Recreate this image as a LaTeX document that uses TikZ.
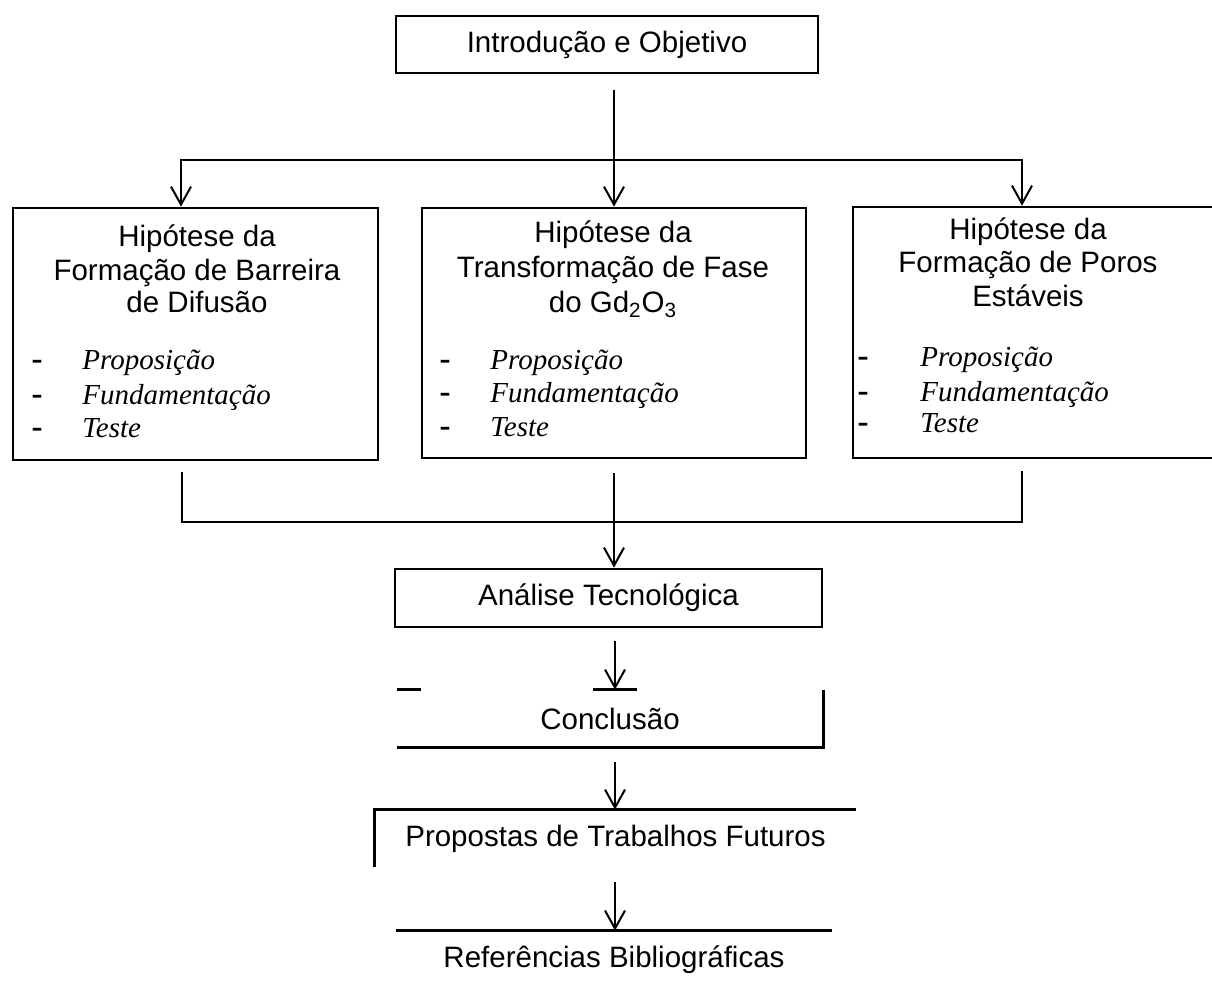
\documentclass[tikz,border=0pt]{standalone}
\usepackage{fontspec}
\setmainfont{Liberation Serif}
\setsansfont{Liberation Sans}
\usetikzlibrary{arrows.meta}
\begin{document}
\begin{tikzpicture}[x=0.5pt,y=-0.5pt,
  box/.style={draw, line width=1.3pt, inner sep=0pt, sf},
  openbox/.style={inner sep=0pt, sf},
  edge/.style={line width=1.3pt},
  conn/.style={line width=1pt},
  arr/.style={conn, -{Straight Barb[length=9pt,width=10pt,line width=1pt]}},
  sf/.style={font=\sffamily\fontsize{14.75}{17}\selectfont},
  ttl/.style={anchor=base, inner sep=0pt, sf},
  itm/.style={anchor=base west, inner sep=0pt, font=\itshape\fontsize{14.5}{17}\selectfont},
  dsh/.style={anchor=base, inner sep=0pt, font=\bfseries\fontsize{16.5}{17}\selectfont},
  ]
\useasboundingbox (0,0) rectangle (1212,983);
\clip (0,0) rectangle (1212,983);

% top box
\node[box, minimum width=211pt, minimum height=28.5pt] (intro) at (607,44.5) {Introdução e Objetivo};

% hypothesis boxes
\node[box, minimum width=182.5pt, minimum height=126pt] (hl) at (195.5,334) {};
\node[box, minimum width=192pt, minimum height=125pt] (hm) at (614,333) {};
\node[box, minimum width=181pt, minimum height=125.5pt] (hr) at (1034,332.5) {};

% left box text
\node[ttl] (hl1) at (197,247) {Hipótese da};
\node[ttl] (hl2) at (197,281) {Formação de Barreira};
\node[ttl] (hl3) at (197,313) {de Difusão};
\node[dsh] (hld1) at (37,370) {-};
\node[dsh] (hld2) at (37,405) {-};
\node[dsh] (hld3) at (37,438) {-};
\node[itm] (hli1) at (82,370) {Proposição};
\node[itm] (hli2) at (82,405) {Fundamentação};
\node[itm] (hli3) at (82,438) {Teste};

% middle box text
\node[ttl] (hm1) at (613,243) {Hipótese da};
\node[ttl] (hm2) at (613,278) {Transformação de Fase};
\node[ttl] (hm3) at (613,313) {do Gd\textsubscript{2}O\textsubscript{3}};
\node[dsh] (hmd1) at (445,370) {-};
\node[dsh] (hmd2) at (445,403) {-};
\node[dsh] (hmd3) at (445,437) {-};
\node[itm] (hmi1) at (490,370) {Proposição};
\node[itm] (hmi2) at (490,403) {Fundamentação};
\node[itm] (hmi3) at (490,437) {Teste};

% right box text
\node[ttl] (hr1) at (1028,240) {Hipótese da};
\node[ttl] (hr2) at (1028,273) {Formação de Poros};
\node[ttl] (hr3) at (1028,307) {Estáveis};
\node[dsh] (hrd1) at (863,367) {-};
\node[dsh] (hrd2) at (863,402) {-};
\node[dsh] (hrd3) at (863,433) {-};
\node[itm] (hri1) at (920,367) {Proposição};
\node[itm] (hri2) at (920,402) {Fundamentação};
\node[itm] (hri3) at (920,433) {Teste};

% lower boxes
\node[box, minimum width=213.5pt, minimum height=29pt] (ana) at (608.5,598) {Análise Tecnológica};
\node[openbox, minimum width=213pt, minimum height=28.5pt] (conc) at (610,718.5) {Conclusão};
\node[openbox, minimum width=240.5pt, minimum height=28.5pt] (prop) at (615.5,838.5) {Propostas de Trabalhos Futuros};
\node[openbox, minimum width=218pt, minimum height=28.5pt] (ref) at (614,959.5) {Referências Bibliográficas};

% visible parts of the open boxes
\draw[edge] (conc.north east) -- (conc.south east) -- (conc.south west);
\draw[edge] (conc.north west) -- ++(24,0);
\draw[edge] ([xshift=-11pt]conc.north -| 615,0) -- ([xshift=11pt]conc.north -| 615,0);
\draw[edge] (prop.south west) -- (prop.north west) -- (prop.north east);
\draw[edge] (ref.north west) -- (ref.north east);

% connectors: top
\coordinate (jm) at (614,160);
\coordinate (jl) at (181,160);
\coordinate (jr) at (1022,160);
\draw[conn, shorten <=8pt] (intro.south -| jm) -- (jm);
\draw[arr] (jm) -- (jm |- hm.north);
\draw[arr] (jm) -- (jl) -- (jl |- hl.north);
\draw[arr] (jm) -- (jr) -- (jr |- hr.north);

% connectors: merge
\coordinate (bl) at (182,522);
\coordinate (bm) at (614,522);
\coordinate (br) at (1022,522);
\draw[conn, shorten <=5.5pt, shorten >=6pt] (hl.south -| bl) -- (bl) -- (br) -- (hr.south -| br);
\draw[arr, shorten <=7pt] (hm.south -| bm) -- (bm |- ana.north);

% connectors: chain
\coordinate (cx) at (615,0);
\draw[arr, shorten <=6.5pt] (ana.south -| cx) -- (conc.north -| cx);
\draw[arr, shorten <=7.5pt] (conc.south -| cx) -- (prop.north -| cx);
\draw[arr, shorten <=7.5pt] (prop.south -| cx) -- (ref.north -| cx);
\end{tikzpicture}
\end{document}
